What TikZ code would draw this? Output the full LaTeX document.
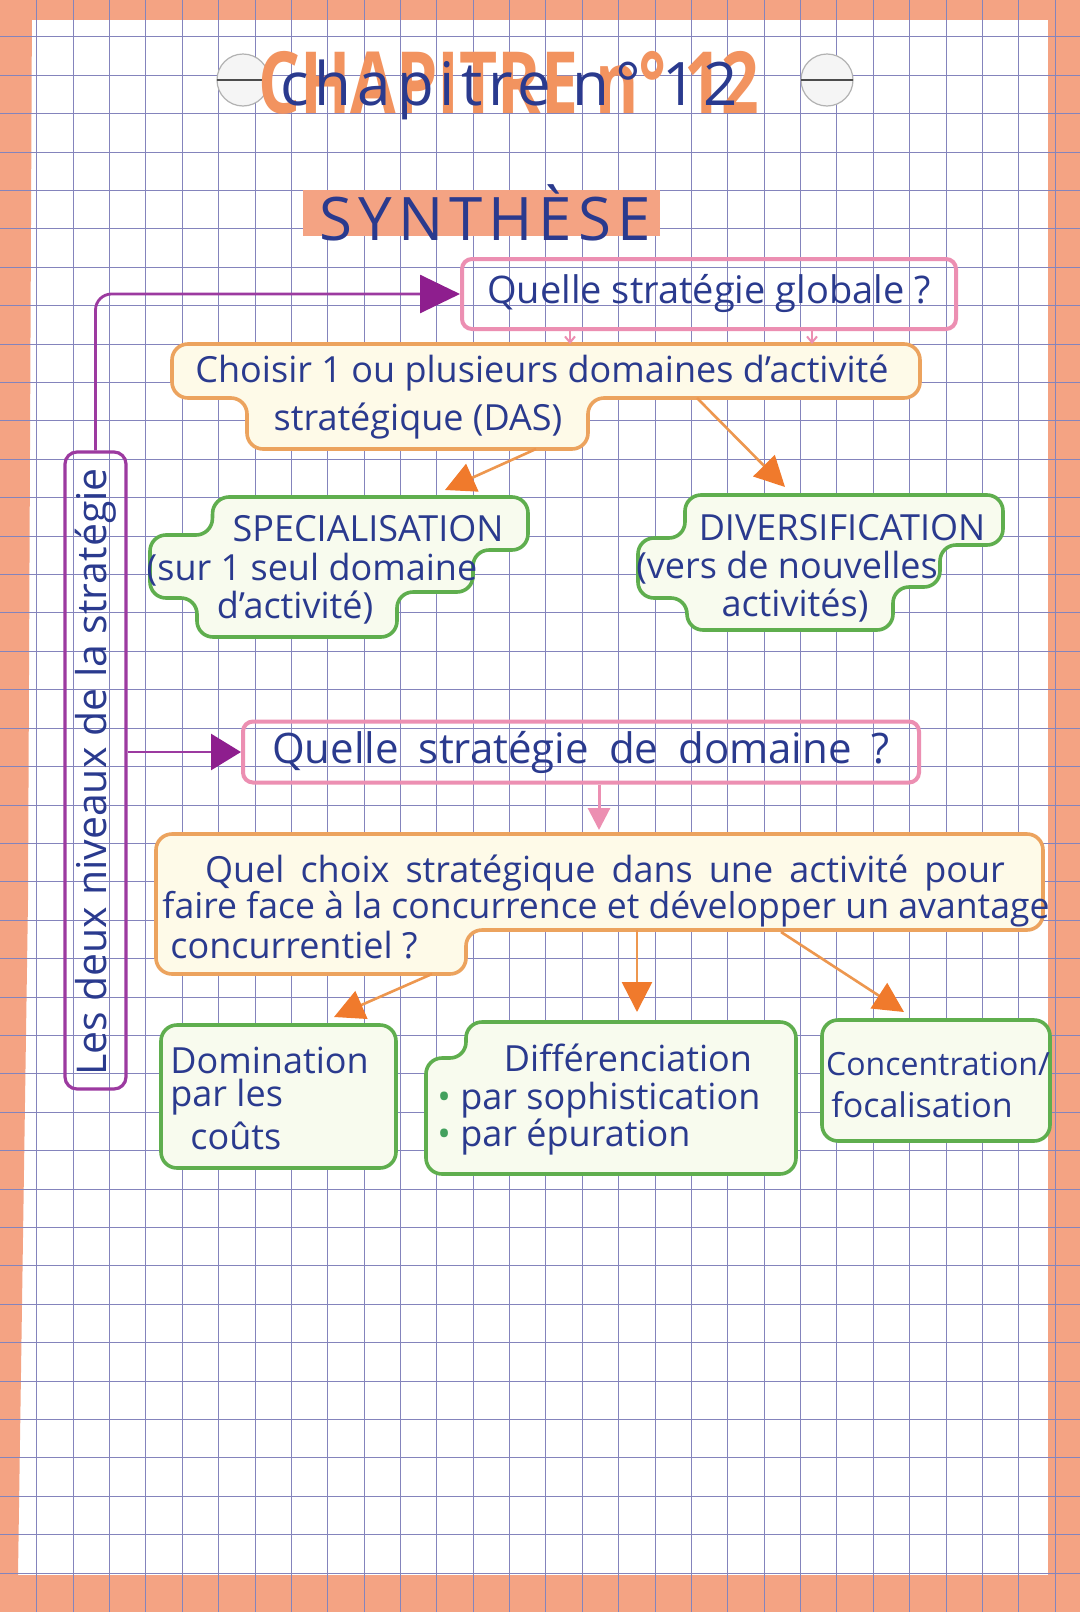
\documentclass[tikz,border=0pt]{standalone}
\usepackage{fontspec}
\setmainfont{Open Sans}
\usepackage{xcolor}
\usepackage{tikz}
\usetikzlibrary{arrows.meta, calc, positioning}

\definecolor{inkblue}{HTML}{2A3A8E}
\definecolor{pinkline}{HTML}{EC8FB2}
\definecolor{orangeline}{HTML}{ECA35E}
\definecolor{orangehead}{HTML}{F07A2C}
\definecolor{greenline}{HTML}{5FAE4E}
\definecolor{purpleline}{HTML}{9C3AA0}
\definecolor{purplehead}{HTML}{8E1E8E}
\definecolor{marker}{HTML}{F4A383}
\definecolor{titleorange}{HTML}{F2935F}
\definecolor{gridline}{HTML}{8484BC}
\definecolor{yellowfill}{HTML}{FEFAE8}
\definecolor{greenfill}{HTML}{F8FBEE}

\newcommand{\hw}[1]{\fontsize{#1}{#1}\selectfont}

\begin{document}
\begin{tikzpicture}[
    x=0.5pt, y=-0.5pt,
    every node/.style={text=inkblue, inner sep=0pt},
    pinkbox/.style={draw=pinkline, line width=2pt, rounded corners=5pt},
    orangebox/.style={draw=orangeline, fill=yellowfill, line width=1.8pt, rounded corners=8pt},
    greenbox/.style={draw=greenline, fill=greenfill, line width=1.8pt, rounded corners=8pt},
    purplebox/.style={draw=purpleline, line width=1.6pt, rounded corners=6pt},
    purplearrow/.style={draw=purpleline, line width=1.4pt, -{Triangle[length=20pt, width=19pt, color=purplehead]}},
    orangearrow/.style={draw=orangeline!70!orangehead, line width=1.3pt, -{Triangle[length=15pt, width=15pt, color=orangehead]}},
    pinkarrow/.style={draw=pinkline, line width=1.5pt, -{Triangle[length=11pt, width=11pt]}},
    pinktick/.style={draw=pinkline, line width=1pt, -{Straight Barb[length=3pt, width=5pt]}},
    gridrule/.style={draw=gridline, line width=0.4pt},
]
% Paper
\fill[white] (0,0) rectangle (1080,1612);
\useasboundingbox (0,0) rectangle (1080,1612);
\fill[marker] (0,0) rectangle (1080,20);
\fill[marker] (0,1575) rectangle (1080,1612);
\fill[marker] (1048,0) rectangle (1080,1612);
\fill[marker] (0,0) -- (32,0) -- (28,900) -- (18,1575) -- (0,1612) -- cycle;
\foreach \k in {0,...,28} \draw[gridrule] ({36.7+36.37*\k},0) -- ++(0,1612);
\foreach \j in {0,...,40} \draw[gridrule] (0,{36.7+38.41*\j}) -- ++(1080,0);

% Punch hole rings
\foreach \cx in {243,827} {
    \filldraw[fill=gray!8, draw=gray!60, line width=0.6pt] (\cx,80) circle (26);
    \draw[black!70, line width=0.8pt] ({\cx-26},80) -- ({\cx+26},80);
}

% Title
\node[text=titleorange, font=\hw{33}\bfseries] (chapo) at (509,83) {\scalebox{1}[1.3]{CHAPITRE n° 12}};
\node[font={\hw{30}\addfontfeatures{LetterSpace=10}}] (chap) at (509,90) {chapitre n° 12};
\fill[marker] (303,190) rectangle (660,236);
\node[font={\hw{30}\addfontfeatures{LetterSpace=10}}] (synth) at (485,213) {SYNTHÈSE};

% Global level
\node[pinkbox, minimum width=247pt, minimum height=35pt, font=\hw{19}] (glob) at (709,294) {Quelle stratégie globale ?};

\draw[orangebox] (172,344) -- (920,344) -- (920,398) -- (588,398) -- (588,449) -- (247,449) -- (247,398) -- (172,398) -- cycle;
\node[font=\hw{18}] (das1) at (542,373) {Choisir 1 ou plusieurs domaines d'activité};
\node[font=\hw{18}] (das2) at (418,421) {stratégique (DAS)};

\coordinate (dasT1) at (570,344);
\coordinate (dasT2) at (812,344);
\draw[pinktick] (glob.south -| dasT1) -- (dasT1);
\draw[pinktick] (glob.south -| dasT2) -- (dasT2);

\draw[greenbox] (213,497) -- (528,497) -- (528,550) -- (473,550) -- (473,592) -- (397,592) -- (397,637) -- (197,637) -- (197,598) -- (150,598) -- (150,535) -- (212,535) -- cycle;
\node[font=\hw{18}] (spe1) at (368,529) {SPECIALISATION};
\node[font=\hw{18}] (spe2) at (312,570) {(sur 1 seul domaine};
\node[font=\hw{18}] (spe3) at (295,608) {d'activité)};

\draw[greenbox] (685,495) -- (1003,495) -- (1003,545) -- (940,545) -- (940,587) -- (893,587) -- (893,630) -- (687,630) -- (687,598) -- (638,598) -- (638,538) -- (685,538) -- cycle;
\node[font=\hw{18}] (div1) at (842,528) {DIVERSIFICATION};
\node[font=\hw{18}] (div2) at (787,568) {(vers de nouvelles};
\node[font=\hw{18}] (div3) at (795,606) {activités)};

\coordinate (dasA) at (536,449);
\coordinate (dasB) at (697,398);
\coordinate (speT) at (445,490);
\coordinate (divT) at (785,487);
\draw[orangearrow] (dasA) -- (speT);
\draw[orangearrow] (dasB) -- (divT);

% Domain level
\node[pinkbox, minimum width=338pt, minimum height=30.5pt, font={\hw{21}\spaceskip=10pt plus 2pt}] (dom) at (581,752) {Quelle stratégie de domaine ?};
\coordinate (concT) at (599,830);
\draw[pinkarrow] (dom.south -| concT) -- (concT);

\draw[orangebox] (156,834) -- (1043,834) -- (1043,930) -- (466,930) -- (466,974) -- (156,974) -- cycle;
\node[font={\hw{18}\spaceskip=8pt plus 2pt}] (conc1) at (605,873) {Quel choix stratégique dans une activité pour};
\node[font=\hw{17.8}] (conc2) at (606,909) {faire face à la concurrence et développer un avantage};
\node[font=\hw{18}, anchor=west] (conc3) at (170,945) {concurrentiel ?};

\draw[greenbox] (161,1025) rectangle (396,1168);
\node[font=\hw{18}, anchor=west] (cout1) at (170,1060) {Domination};
\node[font=\hw{18}, anchor=west] (cout2) at (170,1097) {par les};
\node[font=\hw{18}, anchor=west] (cout3) at (190,1136) {coûts};

\draw[greenbox] (466,1022) -- (796,1022) -- (796,1174) -- (426,1174) -- (426,1058) -- (466,1058) -- cycle;
\node[font=\hw{18}] (diff1) at (628,1058) {Différenciation};
\node[font=\hw{18}, anchor=west] (diff2) at (437,1100) {\textcolor{greenline!70!teal}{•} par sophistication};
\node[font=\hw{18}, anchor=west] (diff3) at (437,1137) {\textcolor{greenline!70!teal}{•} par épuration};

\draw[greenbox] (822,1020) rectangle (1050,1141);
\node[font=\hw{16}] (foc1) at (938,1064) {Concentration/};
\node[font=\hw{17}] (foc2) at (922,1105) {focalisation};

\coordinate (concA) at (432,974);
\coordinate (concB) at (637,930);
\coordinate (concC) at (781,932);
\coordinate (coutT) at (334,1017);
\coordinate (diffT) at (637,1012);
\coordinate (focT) at (904,1012);
\draw[orangearrow] (concA) -- (coutT);
\draw[orangearrow] (concB) -- (diffT);
\draw[orangearrow] (concC) -- (focT);

% The two levels
\node[purplebox, minimum width=30.5pt, minimum height=318.5pt] (niv) at (95.5,770.5) {};
\node[rotate=90, font=\hw{20.5}] (nivtxt) at (95.5,772) {Les deux niveaux de la stratégie};
\draw[purplearrow, rounded corners=8pt] (niv.north) |- (glob.west);
\draw[purplearrow, -{Triangle[length=15pt, width=18pt, color=purplehead]}] (niv.east |- dom.west) -- (dom.west);
\end{tikzpicture}
\end{document}
